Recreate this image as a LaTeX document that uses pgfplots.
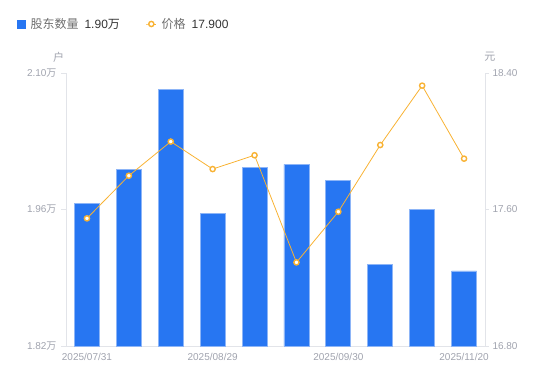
\documentclass[border=0pt]{standalone}
\usepackage{fontspec}
\setmainfont{Liberation Sans}
\newfontfamily\cjk{Noto Sans CJK SC}
\usepackage{pgfplots}
\pgfplotsset{compat=1.18}
\definecolor{barblue}{HTML}{2776F2}
\definecolor{baredge}{HTML}{8DB5F7}
\definecolor{lineor}{HTML}{F8B233}
\definecolor{tickgray}{HTML}{A0A3AE}
\definecolor{axgray}{HTML}{E2E4E9}
\definecolor{leggray}{HTML}{6E6E6E}
\definecolor{legdark}{HTML}{333333}
\pgfplotsset{
  mylinelegend/.style={legend image code/.code={\draw[mark repeat=2,mark phase=2,##1] plot coordinates {(0pt,0pt) (5pt,0pt) (10pt,0pt)};}},
  mybarlegend/.style={legend image code/.code={\fill[barblue] (0pt,-4pt) rectangle (8pt,4pt);}},
}
\begin{document}
\begin{tikzpicture}[x=1pt,y=1pt]
\path[use as bounding box] (0,0) rectangle (550,381);
\begin{axis}[
  at={(66pt,35pt)}, anchor=south west,
  scale only axis, width=419pt, height=273pt,
  xmin=-0.5, xmax=9.5, ymin=1.82, ymax=2.10,
  axis x line*=bottom, axis y line*=left,
  axis line style={draw=axgray, line width=0.8pt},
  xtick={0,3,6,9},
  xticklabels={2025/07/31,2025/08/29,2025/09/30,2025/11/20},
  xtick style={draw=none},
  ytick={1.82,1.96,2.10},
  ytick style={draw=axgray, line width=0.8pt},
  tick align=outside, major tick length=5pt,
  /pgf/number format/assume math mode=true,
  yticklabel={\pgfmathprintnumber[fixed,precision=2,fixed zerofill]{\tick}{\cjk 万}},
  ticklabel style={font=\fontsize{10}{12}\selectfont, text=tickgray},
  xticklabel style={yshift=1pt},
  yticklabel style={xshift=-1pt},
  clip=false,
]
\addplot[ybar, bar width=25pt, fill=barblue, draw=baredge, line width=0.8pt] coordinates {
(0,1.966) (1,2.0015) (2,2.083) (3,1.9557) (4,2.0033) (5,2.0063) (6,1.990) (7,1.904) (8,1.960) (9,1.897)};
\node[font=\fontsize{11}{13}\selectfont\cjk, text=tickgray, anchor=center] at (axis description cs:-0.0174,1.0586) {户};
\end{axis}
\begin{axis}[
  at={(66pt,35pt)}, anchor=south west,
  scale only axis, width=419pt, height=273pt,
  xmin=-0.5, xmax=9.5, ymin=16.8, ymax=18.4,
  axis x line=none, axis y line*=right,
  axis line style={draw=axgray, line width=0.8pt},
  ytick={16.8,17.6,18.4},
  ytick style={draw=axgray, line width=0.8pt},
  tick align=outside, major tick length=4pt,
  /pgf/number format/assume math mode=true,
  yticklabel={\pgfmathprintnumber[fixed,precision=2,fixed zerofill]{\tick}},
  ticklabel style={font=\fontsize{10}{12}\selectfont, text=tickgray},
  legend columns=2,
  legend style={at={(axis description cs:-0.117,1.1795)}, anchor=west, draw=none, fill=none, inner sep=0pt,
    font=\fontsize{12}{14}\selectfont,
    /tikz/every odd column/.append style={column sep=3pt},
    /tikz/every even column/.append style={column sep=24pt}},
  legend cell align=left,
  clip=false,
]
\addlegendimage{mybarlegend}
\addlegendentry{\textcolor{leggray}{\cjk 股东数量}\hspace{6pt}\textcolor{legdark}{1.90{\cjk 万}}}
\addplot[mylinelegend, draw=lineor, line width=0.8pt, mark=*, mark size=2.6pt, mark options={fill=white, draw=lineor, line width=1.4pt}] coordinates {
(0,17.548) (1,17.798) (2,17.998) (3,17.837) (4,17.918) (5,17.29) (6,17.587) (7,17.978) (8,18.326) (9,17.898)};
\addlegendentry{\textcolor{leggray}{\cjk 价格}\hspace{6pt}\textcolor{legdark}{17.900}}
\node[font=\fontsize{11}{13}\selectfont\cjk, text=tickgray, anchor=center] at (axis description cs:1.0119,1.0586) {元};
\end{axis}
\end{tikzpicture}
\end{document}
